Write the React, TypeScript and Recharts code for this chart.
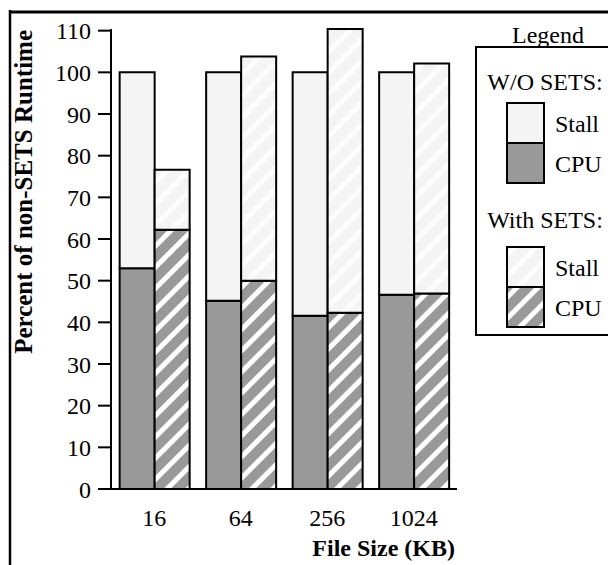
import { BarChart, Bar, XAxis, YAxis } from "recharts";

const sizes = ["16", "64", "256", "1024"];
const cpuWithout = [53, 45.2, 41.6, 46.6];
const totalWithout = [100, 100, 100, 100];
const cpuWith = [62.2, 50, 42.3, 46.9];
const totalWith = [76.6, 103.8, 110.4, 102.1];
const yTicks = [0, 10, 20, 30, 40, 50, 60, 70, 80, 90, 100, 110];

const data = sizes.map((size, i) => ({
  size,
  cpuWo: cpuWithout[i],
  stallWo: totalWithout[i] - cpuWithout[i],
  cpuW: cpuWith[i],
  stallW: totalWith[i] - cpuWith[i],
}));

const FONT = '"Liberation Serif", "Times New Roman", serif';
const GRAY = "#999999";
const LIGHT = "#f4f4f4";

function Swatch({ x, y, hatched }: { x: number; y: number; hatched: boolean }) {
  return (
    <g>
      <rect x={x} y={y} width={37} height={40} fill={hatched ? "url(#hatchLight)" : LIGHT} stroke="#000" strokeWidth={2} />
      <rect x={x} y={y + 40} width={37} height={40} fill={hatched ? "url(#hatchGray)" : GRAY} stroke="#000" strokeWidth={2} />
    </g>
  );
}

function LegendBox() {
  const t = { fontFamily: FONT, fontSize: 24, fill: "#000" };
  return (
    <g>
      <text x={540} y={35} textAnchor="middle" {...t}>Legend</text>
      <rect x={468} y={39} width={160} height={288} fill="#fff" stroke="#000" strokeWidth={2} />
      <text x={537} y={82} textAnchor="middle" {...t}>W/O SETS:</text>
      <Swatch x={499} y={95} hatched={false} />
      <text x={547} y={124} {...t}>Stall</text>
      <text x={547} y={164} {...t}>CPU</text>
      <text x={537} y={220} textAnchor="middle" {...t}>With SETS:</text>
      <Swatch x={499} y={239} hatched={true} />
      <text x={547} y={268} {...t}>Stall</text>
      <text x={547} y={308} {...t}>CPU</text>
    </g>
  );
}

export default function App() {
  return (
    <BarChart
      width={608}
      height={557}
      data={data}
      margin={{ top: 21, right: 159, bottom: 46, left: 0 }}
      barCategoryGap="10%"
      barGap={0}
    >
      <defs>
        <pattern id="hatchGray" patternUnits="userSpaceOnUse" width={15} height={15} patternTransform="rotate(45)">
          <rect width={15} height={15} fill={GRAY} />
          <rect width={5} height={15} fill="#ffffff" />
        </pattern>
        <pattern id="hatchLight" patternUnits="userSpaceOnUse" width={15} height={15} patternTransform="rotate(45)">
          <rect width={15} height={15} fill={LIGHT} />
          <rect width={5} height={15} fill="#fcfcfc" />
        </pattern>
      </defs>
      <line x1={1} y1={4} x2={620} y2={4} stroke="#000" strokeWidth={3} />
      <line x1={2} y1={2} x2={2} y2={560} stroke="#000" strokeWidth={2.5} />
      <XAxis
        dataKey="size"
        tickLine={false}
        tickSize={0}
        tickMargin={20}
        axisLine={{ stroke: "#000", strokeWidth: 2 }}
        tick={{ fill: "#000", fontSize: 24, fontFamily: FONT }}
      />
      <YAxis
        width={103}
        domain={[0, 110]}
        ticks={yTicks}
        interval={0}
        tickSize={13}
        tickMargin={7}
        axisLine={{ stroke: "#000", strokeWidth: 2 }}
        tickLine={{ stroke: "#000", strokeWidth: 2 }}
        tick={{ fill: "#000", fontSize: 24, fontFamily: FONT }}
      />
      <Bar dataKey="cpuWo" stackId="wo" fill={GRAY} stroke="#000" strokeWidth={2} isAnimationActive={false} />
      <Bar dataKey="stallWo" stackId="wo" fill={LIGHT} stroke="#000" strokeWidth={2} isAnimationActive={false} />
      <Bar dataKey="cpuW" stackId="w" fill="url(#hatchGray)" stroke="#000" strokeWidth={2} isAnimationActive={false} />
      <Bar dataKey="stallW" stackId="w" fill="url(#hatchLight)" stroke="#000" strokeWidth={2} isAnimationActive={false} />
      <text
        x={24}
        y={22}
        transform="rotate(-90, 24, 22)"
        textAnchor="end"
        fontFamily={FONT}
        fontSize={25}
        fontWeight="bold"
      >
        Percent of non-SETS Runtime
      </text>
      <text x={447} y={548} textAnchor="end" fontFamily={FONT} fontSize={24} fontWeight="bold">
        File Size (KB)
      </text>
      <LegendBox />
    </BarChart>
  );
}
